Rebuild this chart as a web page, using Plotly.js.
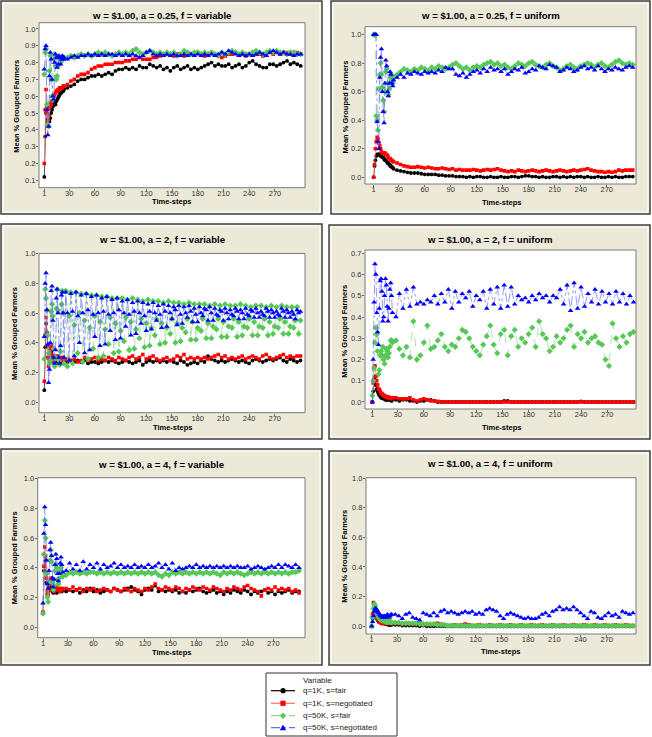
<!DOCTYPE html>
<html><head><meta charset="utf-8">
<script src="https://cdn.plot.ly/plotly-3.0.1.min.js"></script>
<style>html,body{margin:0;padding:0;background:#fff}#chart{width:652px;height:737px}</style>
</head><body><div id="chart"></div>
<script>
// ---------------- DATA ----------------
const timeSteps = [1,2,3,4,5,6,7,8,9,10,11,12,13,14,15,16,17,18,19,20,21,22,23,24,
28,32,36,40,44,48,52,56,60,64,
68,72,76,80,84,88,92,96,100,104,
108,112,116,120,124,128,132,136,140,144,
148,152,156,160,164,168,172,176,180,184,
188,192,196,200,204,208,212,216,220,224,
228,232,236,240,244,248,252,256,260,264,
268,272,276,280,284,288,292,296,300];
// finer grid used for the oscillating a = 2 / variable q=50K series
const timeStepsFine = [1,2,3,4,5,6,7,8,9,10,11,12,13,14,15,16,17,18,19,20,21,22,23,24,
26,28,30,32,34,36,38,40,42,44,46,48,50,52,54,56,58,60,62,64,66,68,70,72,74,76,78,80,82,84,86,88,90,92,94,96,98,100,
102,104,106,108,110,112,114,116,118,120,122,124,126,128,130,132,134,136,138,140,142,144,146,148,150,152,154,156,158,160,162,164,166,168,170,172,174,176,178,180,182,184,186,188,190,192,194,196,198,200,
202,204,206,208,210,212,214,216,218,220,222,224,226,228,230,232,234,236,238,240,242,244,246,248,250,252,254,256,258,260,262,264,266,268,270,272,274,276,278,280,282,284,286,288,290,292,294,296,298,300];
const xTickVals = [1,30,60,90,120,150,180,210,240,270];
const seriesNames = ['q=1K, s=fair','q=1K, s=negotiated','q=50K, s=fair','q=50K, s=negotiated'];
const panelTitles = ['w = $1.00, a = 0.25, f = variable','w = $1.00, a = 0.25, f = uniform','w = $1.00, a = 2, f = variable','w = $1.00, a = 2, f = uniform','w = $1.00, a = 4, f = variable','w = $1.00, a = 4, f = uniform'];

// a = 0.25, f = variable
const a025var_1Kfair = [0.12,0.36,0.50,0.54,0.46,0.49,0.45,0.47,0.50,0.52,0.54,0.55,0.56,0.55,0.57,0.58,0.59,0.60,0.61,0.62,0.62,0.63,0.63,0.64,
0.65,0.66,0.67,0.69,0.70,0.70,0.71,0.72,0.72,0.73,
0.72,0.73,0.74,0.73,0.75,0.76,0.76,0.77,0.76,0.77,
0.76,0.78,0.77,0.77,0.79,0.78,0.77,0.78,0.76,0.77,
0.75,0.77,0.78,0.76,0.77,0.78,0.76,0.77,0.76,0.77,
0.78,0.79,0.80,0.78,0.79,0.78,0.78,0.79,0.77,0.78,
0.79,0.77,0.78,0.80,0.81,0.79,0.78,0.77,0.77,0.79,
0.79,0.78,0.79,0.80,0.81,0.79,0.80,0.79,0.78];
const a025var_1Kneg = [0.20,0.52,0.64,0.50,0.45,0.48,0.53,0.56,0.55,0.57,0.59,0.60,0.61,0.62,0.63,0.63,0.64,0.64,0.65,0.64,0.65,0.65,0.66,0.66,
0.67,0.69,0.70,0.72,0.73,0.73,0.74,0.76,0.77,0.78,
0.78,0.79,0.79,0.79,0.80,0.80,0.80,0.81,0.81,0.82,
0.82,0.83,0.82,0.82,0.82,0.83,0.83,0.84,0.85,0.85,
0.85,0.84,0.85,0.85,0.84,0.86,0.85,0.85,0.86,0.85,
0.84,0.85,0.86,0.85,0.84,0.83,0.84,0.85,0.85,0.86,
0.85,0.85,0.84,0.85,0.86,0.85,0.85,0.84,0.85,0.86,
0.85,0.86,0.85,0.86,0.86,0.85,0.86,0.86,0.85];
const a025var_50Kfair = [0.73,0.86,0.88,0.55,0.43,0.42,0.75,0.84,0.70,0.60,0.58,0.82,0.85,0.78,0.70,0.72,0.78,0.83,0.82,0.80,0.82,0.83,0.82,0.83,
0.83,0.84,0.83,0.84,0.85,0.84,0.85,0.84,0.85,0.86,
0.85,0.86,0.85,0.84,0.85,0.86,0.85,0.86,0.85,0.87,
0.88,0.86,0.85,0.86,0.87,0.86,0.85,0.86,0.85,0.86,
0.85,0.86,0.84,0.85,0.87,0.86,0.85,0.86,0.86,0.85,
0.86,0.85,0.86,0.85,0.84,0.86,0.85,0.86,0.87,0.86,
0.85,0.86,0.85,0.85,0.86,0.87,0.86,0.85,0.86,0.87,
0.86,0.87,0.86,0.86,0.85,0.86,0.86,0.85,0.85];
const a025var_50Kneg = [0.76,0.88,0.90,0.52,0.37,0.42,0.72,0.86,0.82,0.70,0.60,0.58,0.80,0.85,0.83,0.77,0.79,0.84,0.83,0.79,0.82,0.84,0.82,0.83,
0.82,0.83,0.84,0.83,0.84,0.84,0.85,0.84,0.85,0.84,
0.85,0.84,0.85,0.85,0.84,0.85,0.84,0.85,0.84,0.85,
0.84,0.83,0.84,0.86,0.87,0.85,0.84,0.85,0.84,0.85,
0.84,0.85,0.84,0.84,0.85,0.84,0.85,0.84,0.85,0.84,
0.85,0.84,0.85,0.84,0.85,0.86,0.85,0.87,0.86,0.85,
0.84,0.85,0.84,0.85,0.84,0.85,0.86,0.85,0.84,0.86,
0.87,0.86,0.85,0.86,0.85,0.85,0.84,0.85,0.85];

// a = 0.25, f = uniform
const a025uni_1Kfair = [0.00,0.08,0.12,0.15,0.16,0.16,0.16,0.16,0.15,0.15,0.14,0.14,0.13,0.12,0.12,0.11,0.10,0.10,0.09,0.08,0.08,0.07,0.07,0.06,
0.05,0.045,0.04,0.035,0.03,0.03,0.03,0.025,0.02,0.02,
0.02,0.02,0.015,0.015,0.01,0.01,0.01,0.005,0.005,0.005,
0.0,0.005,0.0,0.005,0.005,0.0,0.0,0.005,0.0,0.0,
0.005,0.0,0.0,0.005,0.005,0.0,0.005,0.01,0.01,0.005,
0.005,0.0,0.005,0.0,0.0,0.005,0.005,0.0,0.005,0.0,
0.005,0.0,0.005,0.005,0.0,0.005,0.0,0.0,0.005,0.0,
0.0,0.005,0.0,0.005,0.0,0.0,0.005,0.005,0.005];
const a025uni_1Kneg = [0.00,0.09,0.20,0.25,0.28,0.27,0.24,0.22,0.20,0.18,0.17,0.17,0.17,0.17,0.16,0.16,0.15,0.14,0.13,0.13,0.12,0.12,0.11,0.11,
0.10,0.09,0.08,0.075,0.07,0.07,0.075,0.07,0.065,0.07,
0.065,0.06,0.06,0.065,0.06,0.055,0.06,0.05,0.055,0.05,
0.05,0.05,0.055,0.05,0.045,0.05,0.055,0.05,0.055,0.06,
0.05,0.045,0.04,0.045,0.04,0.05,0.045,0.04,0.045,0.05,
0.045,0.04,0.045,0.05,0.045,0.04,0.045,0.05,0.045,0.04,
0.045,0.05,0.045,0.05,0.055,0.06,0.05,0.045,0.04,0.04,
0.035,0.04,0.035,0.04,0.05,0.045,0.05,0.05,0.05];
const a025uni_50Kfair = [1.00,1.00,1.00,0.43,0.40,0.33,0.62,0.72,0.80,0.72,0.63,0.54,0.46,0.60,0.74,0.76,0.66,0.58,0.62,0.70,0.72,0.68,0.66,0.70,
0.72,0.74,0.76,0.75,0.74,0.76,0.75,0.77,0.76,0.75,
0.77,0.76,0.78,0.77,0.76,0.77,0.79,0.80,0.78,0.76,
0.77,0.75,0.77,0.78,0.77,0.79,0.80,0.81,0.79,0.80,
0.78,0.79,0.77,0.76,0.78,0.80,0.79,0.78,0.80,0.81,
0.79,0.78,0.77,0.79,0.80,0.78,0.77,0.75,0.76,0.78,
0.79,0.77,0.76,0.78,0.79,0.80,0.79,0.77,0.79,0.80,
0.78,0.77,0.79,0.81,0.82,0.80,0.79,0.80,0.79];
const a025uni_50Kneg = [1.00,1.00,1.00,1.00,0.39,0.25,0.20,0.70,0.84,0.90,0.60,0.46,0.38,0.66,0.82,0.78,0.60,0.57,0.66,0.74,0.72,0.66,0.64,0.68,
0.70,0.72,0.70,0.73,0.72,0.74,0.73,0.72,0.74,0.73,
0.74,0.73,0.75,0.74,0.77,0.76,0.76,0.72,0.71,0.73,
0.70,0.72,0.74,0.75,0.73,0.76,0.74,0.77,0.75,0.76,
0.74,0.76,0.72,0.74,0.76,0.75,0.77,0.73,0.74,0.76,
0.75,0.78,0.77,0.76,0.79,0.78,0.77,0.74,0.75,0.77,
0.76,0.74,0.75,0.77,0.78,0.76,0.77,0.75,0.78,0.76,
0.74,0.76,0.75,0.77,0.76,0.75,0.77,0.78,0.77];

// a = 2, f = variable
const a2var_1Kfair = [0.08,0.37,0.53,0.47,0.38,0.30,0.26,0.28,0.33,0.35,0.31,0.28,0.27,0.28,0.29,0.28,0.27,0.28,0.27,0.28,0.27,0.28,0.27,0.28,
0.27,0.28,0.27,0.28,0.27,0.28,0.26,0.27,0.27,0.26,
0.27,0.28,0.27,0.28,0.27,0.26,0.27,0.28,0.27,0.26,
0.27,0.28,0.25,0.27,0.28,0.27,0.28,0.27,0.28,0.27,
0.28,0.27,0.26,0.28,0.27,0.25,0.26,0.27,0.26,0.28,
0.27,0.31,0.29,0.28,0.27,0.28,0.27,0.28,0.29,0.28,
0.27,0.28,0.27,0.26,0.28,0.29,0.28,0.27,0.28,0.29,
0.28,0.29,0.30,0.28,0.27,0.29,0.28,0.27,0.28];
const a2var_1Kneg = [0.14,0.45,0.57,0.45,0.30,0.24,0.29,0.36,0.38,0.32,0.27,0.30,0.31,0.29,0.30,0.31,0.29,0.30,0.28,0.30,0.29,0.28,0.30,0.29,
0.29,0.28,0.29,0.27,0.28,0.30,0.28,0.29,0.30,0.28,
0.29,0.28,0.30,0.29,0.28,0.30,0.29,0.28,0.30,0.31,
0.29,0.30,0.32,0.29,0.30,0.31,0.29,0.28,0.29,0.30,
0.28,0.29,0.31,0.30,0.32,0.29,0.30,0.29,0.30,0.29,
0.30,0.29,0.30,0.31,0.32,0.30,0.31,0.29,0.30,0.29,
0.30,0.31,0.29,0.30,0.31,0.30,0.29,0.31,0.32,0.30,
0.29,0.30,0.31,0.32,0.30,0.31,0.30,0.31,0.31];
// these two use timeStepsFine
const a2var_50Kfair = [0.29,0.76,0.70,0.62,0.45,0.33,0.26,0.28,0.61,0.66,0.58,0.36,0.24,0.30,0.63,0.76,0.62,0.28,0.25,0.34,0.66,0.75,0.60,0.26,
0.75,0.24,0.58, 0.74,0.26,0.52, 0.74,0.33,0.60, 0.73,0.27,0.55, 0.73,0.29,0.50, 0.72,0.36,0.58, 0.72,0.30,0.54, 0.71,0.31,0.49,
0.71,0.39,0.57, 0.70,0.33,0.53, 0.70,0.34,0.48, 0.70,0.41,0.57, 0.69,0.35,0.54, 0.70,0.36,0.49, 0.69,0.43,0.56, 0.68,0.37,0.53,
0.69,0.38,0.50, 0.68,0.45,0.56, 0.68,0.39,0.53, 0.67,0.40,0.50, 0.68,0.46,0.56, 0.67,0.40,0.53, 0.67,0.41,0.50, 0.66,0.47,0.56,
0.67,0.42,0.54, 0.66,0.42,0.50, 0.66,0.48,0.56, 0.66,0.43,0.53, 0.65,0.43,0.51, 0.66,0.49,0.56, 0.65,0.44,0.54, 0.66,0.44,0.51,
0.65,0.50,0.56, 0.65,0.44,0.54, 0.66,0.45,0.51, 0.65,0.50,0.56, 0.64,0.45,0.54, 0.65,0.45,0.51, 0.65,0.50,0.56, 0.64,0.45,0.54,
0.65,0.46,0.51, 0.64,0.50,0.56, 0.65,0.46,0.54, 0.64,0.46,0.51, 0.64,0.50,0.55, 0.64,0.46,0.55];
const a2var_50Kneg = [0.44,0.80,0.87,0.62,0.39,0.13,0.22,0.40,0.75,0.78,0.55,0.30,0.26,0.35,0.70,0.76,0.60,0.30,0.26,0.38,0.72,0.74,0.60,0.30,
0.74,0.60,0.28, 0.73,0.61,0.31, 0.74,0.58,0.40, 0.72,0.60,0.33, 0.73,0.62,0.35, 0.71,0.59,0.44, 0.72,0.60,0.38, 0.70,0.61,0.39,
0.71,0.59,0.48, 0.69,0.60,0.42, 0.70,0.62,0.43, 0.68,0.60,0.51, 0.69,0.59,0.45, 0.67,0.61,0.46, 0.68,0.60,0.53, 0.67,0.58,0.48,
0.66,0.61,0.49, 0.67,0.60,0.55, 0.65,0.59,0.50, 0.66,0.61,0.51, 0.65,0.60,0.56, 0.64,0.62,0.52, 0.65,0.59,0.53, 0.64,0.60,0.57,
0.65,0.61,0.54, 0.63,0.59,0.54, 0.64,0.60,0.58, 0.63,0.62,0.55, 0.64,0.60,0.55, 0.63,0.59,0.58, 0.62,0.61,0.55, 0.63,0.60,0.56,
0.62,0.59,0.58, 0.63,0.61,0.56, 0.62,0.60,0.56, 0.63,0.59,0.58, 0.62,0.61,0.57, 0.63,0.60,0.57, 0.61,0.59,0.58, 0.63,0.61,0.57,
0.62,0.60,0.57, 0.61,0.59,0.58, 0.63,0.61,0.57, 0.62,0.60,0.57, 0.61,0.59,0.56, 0.62,0.60,0.61];

// a = 2, f = uniform
const a2uni_1Kfair = [0.00,0.05,0.11,0.12,0.08,0.06,0.05,0.04,0.03,0.03,0.02,0.02,0.02,0.015,0.015,0.01,0.01,0.01,0.015,0.01,0.01,0.01,0.005,0.01,
0.01,0.005,0.01,0.01,0.005,0.005,0.0,0.005,0.005,0.01,
0.01,0.005,0.0,0,0,0,0,0,0,0,
0,0,0,0,0,0,0,0,0,0,
0,0.005,0.005,0,0,0,0,0,0,0,
0,0,0,0,0,0,0,0,0,0,
0,0,0,0.003,0,0,0,0,0,0,
0,0,0,0,0,0,0,0,0];
const a2uni_1Kneg = [0.00,0.09,0.16,0.17,0.12,0.10,0.08,0.06,0.06,0.05,0.04,0.04,0.035,0.03,0.03,0.025,0.025,0.02,0.025,0.02,0.02,0.02,0.015,0.02,
0.02,0.015,0.015,0.015,0.02,0.01,0.005,0.01,0.015,0.01,
0.005,0.005,0.003,0,0,0,0,0,0,0,
0,0,0,0,0,0,0,0,0,0,
0,0,0,0,0,0,0,0,0,0,
0,0,0,0,0,0,0,0,0,0,
0,0,0,0,0,0,0,0,0,0,
0,0,0,0,0,0,0,0,0];
const a2uni_50Kfair = [0.03,0.10,0.16,0.28,0.35,0.32,0.24,0.13,0.15,0.22,0.24,0.22,0.26,0.20,0.18,0.22,0.25,0.24,0.21,0.23,0.26,0.29,0.29,0.28,
0.29,0.25,0.22,0.26,0.21,0.38,0.20,0.22,0.28,0.36,
0.25,0.26,0.29,0.32,0.26,0.24,0.27,0.26,0.30,0.34,
0.33,0.30,0.26,0.24,0.22,0.27,0.31,0.36,0.27,0.23,
0.32,0.34,0.22,0.31,0.34,0.26,0.30,0.28,0.32,0.35,
0.26,0.38,0.32,0.30,0.24,0.26,0.31,0.28,0.30,0.34,
0.36,0.26,0.32,0.30,0.33,0.28,0.30,0.31,0.28,0.27,
0.20,0.17,0.37,0.30,0.26,0.31,0.28,0.32,0.33];
const a2uni_50Kneg = [0.00,0.20,0.47,0.65,0.60,0.42,0.33,0.27,0.44,0.57,0.58,0.52,0.38,0.40,0.50,0.58,0.55,0.45,0.38,0.44,0.53,0.56,0.50,0.42,
0.40,0.51,0.44,0.53,0.45,0.54,0.46,0.47,0.46,0.48,
0.47,0.50,0.46,0.51,0.47,0.53,0.44,0.52,0.47,0.51,
0.49,0.52,0.45,0.50,0.48,0.52,0.44,0.53,0.46,0.54,
0.44,0.55,0.45,0.54,0.46,0.50,0.48,0.49,0.47,0.50,
0.48,0.51,0.49,0.50,0.47,0.50,0.49,0.53,0.46,0.55,
0.43,0.56,0.44,0.54,0.45,0.51,0.47,0.53,0.46,0.52,
0.47,0.51,0.46,0.52,0.47,0.51,0.46,0.50,0.47];

// a = 4, f = variable
const a4var_1Kfair = [0.10,0.38,0.48,0.45,0.30,0.22,0.24,0.27,0.30,0.28,0.25,0.24,0.23,0.24,0.25,0.24,0.23,0.25,0.24,0.25,0.24,0.25,0.24,0.25,
0.24,0.25,0.24,0.25,0.23,0.25,0.24,0.26,0.24,0.25,
0.23,0.24,0.25,0.24,0.26,0.25,0.24,0.25,0.26,0.27,
0.25,0.24,0.22,0.25,0.26,0.25,0.28,0.24,0.25,0.24,
0.25,0.24,0.25,0.23,0.24,0.23,0.25,0.24,0.25,0.26,
0.24,0.23,0.24,0.25,0.23,0.24,0.22,0.24,0.23,0.25,
0.24,0.23,0.25,0.24,0.22,0.24,0.23,0.24,0.25,0.23,
0.24,0.22,0.24,0.23,0.24,0.25,0.23,0.24,0.24];
const a4var_1Kneg = [0.10,0.41,0.54,0.48,0.33,0.24,0.22,0.25,0.30,0.33,0.29,0.26,0.25,0.24,0.26,0.25,0.26,0.27,0.25,0.26,0.24,0.26,0.25,0.26,
0.26,0.25,0.27,0.25,0.26,0.24,0.26,0.25,0.26,0.24,
0.25,0.26,0.25,0.24,0.26,0.25,0.24,0.26,0.25,0.24,
0.26,0.25,0.24,0.26,0.25,0.27,0.29,0.26,0.25,0.27,
0.26,0.25,0.27,0.26,0.24,0.26,0.25,0.27,0.26,0.25,
0.27,0.26,0.25,0.27,0.26,0.25,0.24,0.26,0.25,0.27,
0.26,0.25,0.27,0.28,0.26,0.25,0.24,0.21,0.25,0.26,
0.25,0.27,0.25,0.26,0.25,0.26,0.24,0.25,0.23];
const a4var_50Kfair = [0.09,0.49,0.72,0.60,0.36,0.20,0.17,0.30,0.45,0.52,0.44,0.30,0.25,0.28,0.38,0.42,0.40,0.32,0.29,0.33,0.38,0.40,0.37,0.34,
0.35,0.37,0.36,0.37,0.36,0.37,0.36,0.37,0.37,0.36,
0.37,0.36,0.37,0.36,0.37,0.36,0.37,0.36,0.37,0.36,
0.37,0.36,0.37,0.36,0.37,0.36,0.37,0.35,0.34,0.36,
0.35,0.37,0.36,0.37,0.36,0.37,0.36,0.37,0.36,0.37,
0.36,0.37,0.36,0.37,0.36,0.35,0.37,0.36,0.37,0.36,
0.37,0.36,0.35,0.36,0.37,0.36,0.37,0.36,0.37,0.36,
0.37,0.36,0.37,0.36,0.37,0.36,0.37,0.37,0.38];
const a4var_50Kneg = [0.16,0.63,0.81,0.69,0.45,0.29,0.26,0.38,0.52,0.57,0.48,0.33,0.27,0.32,0.42,0.49,0.46,0.36,0.31,0.36,0.43,0.47,0.42,0.37,
0.38,0.43,0.39,0.42,0.38,0.44,0.39,0.42,0.40,0.43,
0.39,0.42,0.40,0.41,0.43,0.40,0.42,0.40,0.41,0.40,
0.42,0.40,0.41,0.40,0.42,0.40,0.41,0.43,0.40,0.42,
0.39,0.43,0.38,0.40,0.39,0.40,0.41,0.40,0.42,0.40,
0.41,0.40,0.41,0.40,0.41,0.40,0.41,0.40,0.41,0.40,
0.41,0.40,0.40,0.41,0.39,0.40,0.41,0.40,0.39,0.40,
0.41,0.40,0.42,0.40,0.42,0.41,0.40,0.42,0.40];

// a = 4, f = uniform
const a4uni_1Kfair = [0.00,0.05,0.09,0.10,0.08,0.06,0.05,0.04,0.03,0.03,0.03,0.02,0.02,0.02,0.02,0.02,0.015,0.015,0.015,0.01,0.01,0.01,0.01,0.01,
0.01,0.01,0.005,0.005,0.005,0.005,0.005,0.0,0.005,0.0,
0,0,0,0,0,0,0,0,0,0,
0,0,0,0,0,0,0,0,0,0,
0,0,0,0,0,0,0,0,0,0,
0,0,0,0,0,0,0,0,0,0,
0,0,0,0,0,0,0,0,0,0,
0,0,0,0,0,0,0,0,0];
const a4uni_1Kneg = [0.00,0.08,0.16,0.15,0.10,0.08,0.06,0.05,0.04,0.03,0.03,0.02,0.02,0.02,0.02,0.02,0.02,0.02,0.02,0.02,0.02,0.02,0.02,0.02,
0.02,0.02,0.015,0.02,0.02,0.015,0.02,0.015,0.01,0.015,
0.01,0.015,0.02,0.015,0.01,0.005,0.005,0.01,0.005,0.01,
0.015,0.01,0.005,0.005,0.01,0.005,0.005,0.01,0.005,0.005,
0.01,0.005,0.005,0.01,0.005,0.005,0.01,0.005,0.005,0.01,
0.005,0.005,0.01,0.005,0.005,0.01,0.005,0.005,0.01,0.005,
0.005,0.01,0.005,0.005,0.01,0.005,0.005,0.01,0.005,0.005,
0.01,0.005,0.005,0.01,0.005,0.005,0.01,0.005,0.005];
const a4uni_50Kfair = [0.00,0.06,0.12,0.15,0.14,0.11,0.09,0.07,0.06,0.05,0.05,0.04,0.04,0.04,0.035,0.035,0.03,0.03,0.03,0.03,0.03,0.03,0.03,0.025,
0.025,0.025,0.02,0.02,0.02,0.02,0.02,0.015,0.015,0.015,
0.015,0.015,0.01,0.01,0.01,0.005,0.005,0.005,0.005,0.005,
0.003,0.003,0.003,0.003,0.003,0.003,0.003,0.003,0.003,0.003,
0.003,0.003,0.003,0.003,0.003,0.003,0.003,0.003,0.003,0.003,
0.003,0.003,0.003,0.003,0.003,0.003,0.003,0.003,0.003,0.003,
0.003,0.003,0.003,0.003,0.003,0.003,0.003,0.003,0.003,0.003,
0.003,0.003,0.003,0.003,0.003,0.003,0.003,0.003,0.003];
const a4uni_50Kneg = [0.00,0.03,0.07,0.10,0.12,0.12,0.11,0.10,0.09,0.08,0.07,0.07,0.06,0.07,0.06,0.07,0.06,0.07,0.08,0.07,0.06,0.07,0.08,0.08,
0.08,0.07,0.05,0.08,0.09,0.06,0.05,0.04,0.09,0.08,
0.07,0.09,0.07,0.10,0.11,0.09,0.10,0.09,0.08,0.09,
0.10,0.09,0.10,0.08,0.09,0.08,0.11,0.12,0.11,0.10,
0.07,0.05,0.08,0.09,0.08,0.07,0.06,0.05,0.06,0.05,
0.05,0.06,0.08,0.09,0.07,0.10,0.11,0.13,0.11,0.12,
0.11,0.13,0.11,0.09,0.07,0.05,0.10,0.09,0.06,0.05,
0.07,0.09,0.07,0.08,0.06,0.10,0.09,0.08,0.09];

// ---------------- LAYOUT / STYLE ----------------
const W = 652, H = 737;
const FONT = 'Liberation Sans, Arial, sans-serif';
const px = p => p / W;
const py = p => 1 - p / H;

const styles = [
  {marker:{symbol:'circle', size:3.8, color:'#000000'}, line:{color:'#000000', width:0.7, dash:'solid'}},
  {marker:{symbol:'square', size:3.6, color:'#FF0000'}, line:{color:'#FF7070', width:0.7, dash:'solid'}},
  {marker:{symbol:'diamond', size:4.8, color:'#55C855'}, line:{color:'#8CDA8C', width:0.7, dash:'dash'}},
  {marker:{symbol:'triangle-up', size:5, color:'#0000FF'}, line:{color:'#6A6AFF', width:0.7, dash:'dashdot'}}
];

const panels = [
  {frame:[1,1,322,214],   plot:[39,22.7,305,187.7],  xr:[-5.2,305],  yr:[0.056,1.037],  dt:0.1, tt:[161.7,15.5], xt:[172,201.7],  yt:[15.7,106],
   data:[a025var_1Kfair,a025var_1Kneg,a025var_50Kfair,a025var_50Kneg], xs:[timeSteps,timeSteps,timeSteps,timeSteps]},
  {frame:[331,1,650,214], plot:[365,26.7,636,184],   xr:[-9,303.8],  yr:[-0.047,1.056], dt:0.2, tt:[490,15.7],   xt:[501,202.3],  yt:[345,107.5],
   data:[a025uni_1Kfair,a025uni_1Kneg,a025uni_50Kfair,a025uni_50Kneg], xs:[timeSteps,timeSteps,timeSteps,timeSteps]},
  {frame:[1,224,322,439], plot:[39,253.5,305,412.7], xr:[-5.2,305.3],yr:[-0.072,1.0015],dt:0.2, tt:[162,239.3],  xt:[172.3,427.3],yt:[15,334],
   data:[a2var_1Kfair,a2var_1Kneg,a2var_50Kfair,a2var_50Kneg], xs:[timeSteps,timeSteps,timeStepsFine,timeStepsFine]},
  {frame:[329,225,650,439],plot:[365,250,636,409],   xr:[-7.4,302.9],yr:[-0.033,0.7155],dt:0.1, tt:[489.8,239.7],xt:[501,427.3],  yt:[345,331.7],
   data:[a2uni_1Kfair,a2uni_1Kneg,a2uni_50Kfair,a2uni_50Kneg], xs:[timeSteps,timeSteps,timeSteps,timeSteps]},
  {frame:[1,449,322,665], plot:[37.7,477.7,305,637.7],xr:[-5.2,307], yr:[-0.072,1.007], dt:0.2, tt:[160.8,464],  xt:[171.3,652],  yt:[14.3,558],
   data:[a4var_1Kfair,a4var_1Kneg,a4var_50Kfair,a4var_50Kneg], xs:[timeSteps,timeSteps,timeSteps,timeSteps]},
  {frame:[329,451,650,665],plot:[366,477.7,636,634], xr:[-5.5,303.5],yr:[-0.052,1.002], dt:0.2, tt:[490,463.7],  xt:[500.8,651.7],yt:[345,556.7],
   data:[a4uni_1Kfair,a4uni_1Kneg,a4uni_50Kfair,a4uni_50Kneg], xs:[timeSteps,timeSteps,timeSteps,timeSteps]}
];

const traces = [];
const shapes = [];
const annotations = [];
const layout = {
  width: W, height: H, margin:{l:0,r:0,t:0,b:0},
  paper_bgcolor:'#FFFFFF', plot_bgcolor:'rgba(0,0,0,0)',
  showlegend:false, font:{family:FONT, color:'#333333'}
};

panels.forEach((p, i) => {
  const n = i + 1;
  const xa = n === 1 ? 'x' : 'x' + n;
  const ya = n === 1 ? 'y' : 'y' + n;
  const [fx0, fy0, fx1, fy1] = p.frame;
  const [ax0, ay0, ax1, ay1] = p.plot;
  shapes.push({type:'rect', xref:'paper', yref:'paper', layer:'below',
    x0:px(fx0), x1:px(fx1), y0:py(fy1), y1:py(fy0),
    fillcolor:'#ECE9D8', line:{color:'#404040', width:1.5}});
  shapes.push({type:'rect', xref:'paper', yref:'paper', layer:'below',
    x0:px(fx0+2), x1:px(fx1-2), y0:py(fy1-2), y1:py(fy0+2),
    fillcolor:'rgba(0,0,0,0)', line:{color:'#FFFFFF', width:1}});
  shapes.push({type:'rect', xref:'paper', yref:'paper', layer:'below',
    x0:px(ax0), x1:px(ax1), y0:py(ay1), y1:py(ay0),
    fillcolor:'#FFFFFF', line:{color:'#7A7A7A', width:1}});

  layout[n === 1 ? 'xaxis' : 'xaxis' + n] = {
    domain:[px(ax0), px(ax1)], range:p.xr, anchor:ya,
    tickmode:'array', tickvals:xTickVals, ticks:'outside', ticklen:2, tickwidth:1, tickcolor:'#666666',
    ticklabelstandoff:-4,
    showgrid:false, zeroline:false, showline:false, fixedrange:true,
    tickfont:{family:FONT, size:7.5, color:'#333333'}
  };
  layout[n === 1 ? 'yaxis' : 'yaxis' + n] = {
    domain:[py(ay1), py(ay0)], range:p.yr, anchor:xa,
    tick0:0, dtick:p.dt, tickformat:'.1f', ticks:'outside', ticklen:2, tickwidth:1, tickcolor:'#666666',
    ticklabelstandoff:-1,
    showgrid:false, zeroline:false, showline:false, fixedrange:true,
    tickfont:{family:FONT, size:7.5, color:'#333333'}
  };

  p.data.forEach((ys, k) => {
    traces.push({
      type:'scatter', mode:'lines+markers', name:seriesNames[k],
      x: p.xs[k], y: ys, xaxis: xa, yaxis: ya,
      marker: Object.assign({}, styles[k].marker, {line:{width:0}}),
      line: styles[k].line, hoverinfo:'skip'
    });
  });

  annotations.push({xref:'paper', yref:'paper', x:px(p.tt[0]), y:py(p.tt[1]), xanchor:'center', yanchor:'middle',
    text:'<b>' + panelTitles[i] + '</b>', showarrow:false, font:{family:FONT, size:9.6, color:'#000000'}});
  annotations.push({xref:'paper', yref:'paper', x:px(p.xt[0]), y:py(p.xt[1]), xanchor:'center', yanchor:'middle',
    text:'<b>Time-steps</b>', showarrow:false, font:{family:FONT, size:7.5, color:'#000000'}});
  annotations.push({xref:'paper', yref:'paper', x:px(p.yt[0]), y:py(p.yt[1]), xanchor:'center', yanchor:'middle',
    text:'<b>Mean % Grouped Farmers</b>', textangle:-90, showarrow:false, font:{family:FONT, size:7.5, color:'#000000'}});
});

// ---------------- LEGEND (drawn manually) ----------------
const LG = {box:[266,673,397,736], titleY:680, rows:[690.7,703.3,715.7,727.7], lx0:271, lx1:295, mx:283, tx:301};
shapes.push({type:'rect', xref:'paper', yref:'paper', x0:px(LG.box[0]), x1:px(LG.box[2]), y0:py(LG.box[3]), y1:py(LG.box[1]),
  fillcolor:'#FFFFFF', line:{color:'#333333', width:1}});
annotations.push({xref:'paper', yref:'paper', x:px(LG.tx), y:py(LG.titleY), xanchor:'left', yanchor:'middle',
  text:'Variable', showarrow:false, font:{family:FONT, size:8, color:'#222222'}});
LG.rows.forEach((ry, k) => {
  const st = styles[k];
  shapes.push({type:'line', xref:'paper', yref:'paper', x0:px(LG.lx0), x1:px(LG.lx1), y0:py(ry), y1:py(ry),
    line:{color:st.line.color, width:1.2, dash:st.line.dash}});
  const c = st.marker.color, cx = LG.mx, cy = ry;
  if (k === 0) {
    shapes.push({type:'circle', xref:'paper', yref:'paper', x0:px(cx-2.6), x1:px(cx+2.6), y0:py(cy+2.6), y1:py(cy-2.6), fillcolor:c, line:{width:0}});
  } else if (k === 1) {
    shapes.push({type:'rect', xref:'paper', yref:'paper', x0:px(cx-2.6), x1:px(cx+2.6), y0:py(cy+2.6), y1:py(cy-2.6), fillcolor:c, line:{width:0}});
  } else if (k === 2) {
    const d = 3.2;
    shapes.push({type:'path', xref:'paper', yref:'paper',
      path:`M ${px(cx)} ${py(cy-d)} L ${px(cx+d)} ${py(cy)} L ${px(cx)} ${py(cy+d)} L ${px(cx-d)} ${py(cy)} Z`, fillcolor:c, line:{width:0}});
  } else {
    const d = 3.2;
    shapes.push({type:'path', xref:'paper', yref:'paper',
      path:`M ${px(cx)} ${py(cy-d)} L ${px(cx+d)} ${py(cy+d*0.8)} L ${px(cx-d)} ${py(cy+d*0.8)} Z`, fillcolor:c, line:{width:0}});
  }
  annotations.push({xref:'paper', yref:'paper', x:px(LG.tx), y:py(ry), xanchor:'left', yanchor:'middle',
    text:seriesNames[k], showarrow:false, font:{family:FONT, size:8, color:'#222222'}});
});

layout.shapes = shapes;
layout.annotations = annotations;

Plotly.newPlot('chart', traces, layout, {displayModeBar:false, staticPlot:true});
</script>
</body></html>
